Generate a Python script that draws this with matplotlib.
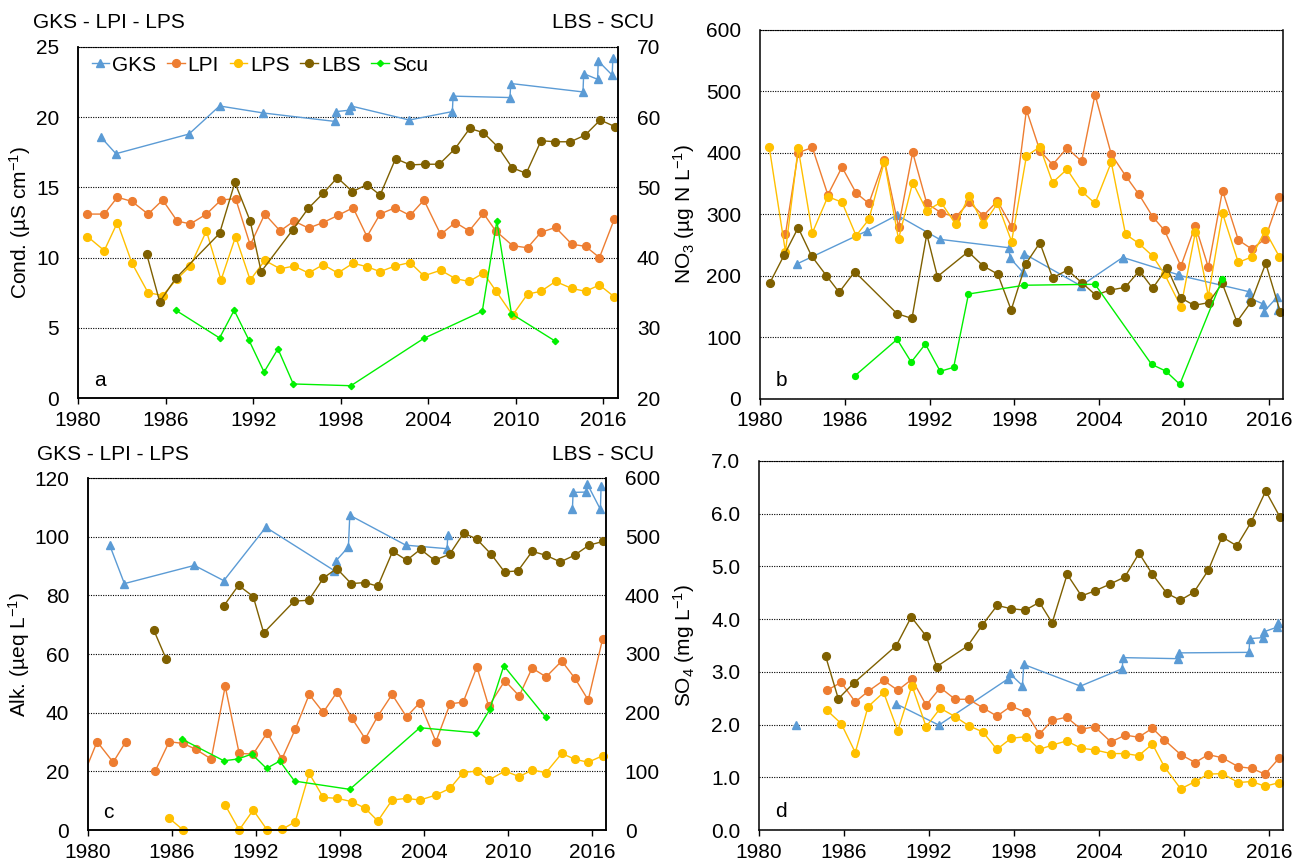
import numpy as np
import matplotlib
matplotlib.use("Agg")
import matplotlib.pyplot as plt
from matplotlib.lines import Line2D

plt.rcParams['font.family'] = ['Liberation Sans', 'DejaVu Sans']
plt.rcParams['mathtext.default'] = 'regular'
plt.rcParams['font.size'] = 15

nan = np.nan

# sampling years
YR_GKS = [1981.55, 1982.6, 1987.6, 1989.7, 1992.7, 1997.6, 1997.7, 1998.6, 1998.7, 2002.7,
          2005.65, 2005.7, 2009.6, 2009.65, 2014.6, 2014.65, 2015.6, 2015.65, 2016.6, 2016.65]
YR_LAKE = [1980.65, 1981.8, 1982.7, 1983.7, 1984.8, 1985.8, 1986.8, 1987.7, 1988.8, 1989.8,
           1990.8, 1991.8, 1992.8, 1993.85, 1994.8, 1995.8, 1996.8, 1997.8, 1998.85, 1999.8,
           2000.7, 2001.72, 2002.75, 2003.7, 2004.85, 2005.86, 2006.8, 2007.78, 2008.62, 2009.78,
           2010.8, 2011.72, 2012.72, 2013.84, 2014.78, 2015.73, 2016.75]
YR_LBS = [1984.7, 1985.6, 1986.7, 1989.7, 1990.75, 1991.8, 1992.55, 1994.73, 1995.77, 1996.82,
          1997.77, 1998.8, 1999.8, 2000.7, 2001.76, 2002.77, 2003.75, 2004.75, 2005.83, 2006.84,
          2007.78, 2008.8, 2009.75, 2010.71, 2011.73, 2012.7, 2013.74, 2014.75, 2015.78, 2016.8]
YR_LBS_B = [1980.7, 1981.7, 1982.7, 1983.65] + YR_LBS
YR_SCU = [1986.7, 1989.7, 1990.7, 1991.7, 1992.75, 1993.7, 1994.75, 1998.7, 2003.7, 2007.7,
          2008.7, 2009.7, 2012.7]

# a: conductivity (uS/cm)
cond_gks = [18.6, 17.4, 18.8, 20.8, 20.3, 19.7, 20.4, 20.5, 20.8, 19.8,
            20.4, 21.5, 21.4, 22.4, 21.8, 23.1, 22.7, 24.0, 23.0, 24.25]
cond_lpi = [13.1, 13.1, 14.3, 14.0, 13.1, 14.1, 12.6, 12.4, 13.1, 14.1, 14.2, 10.9, 13.1, 11.9,
            12.6, 12.1, 12.5, 13.0, 13.55, 11.5, 13.1, 13.55, 13.0, 14.1, 11.65, 12.5, 11.9,
            13.15, 11.9, 10.85, 10.7, 11.8, 12.15, 10.95, 10.8, 10.0, 12.75]
cond_lps = [11.5, 10.5, 12.5, 9.6, 7.5, 7.3, 8.5, 9.4, 11.9, 8.4, 11.5, 8.4, 9.8, 9.2, 9.4, 8.9,
            9.5, 8.9, 9.6, 9.35, 9.0, 9.4, 9.65, 8.7, 9.1, 8.5, 8.3, 8.9, 7.65, 5.9, 7.4, 7.6,
            8.3, 7.8, 7.6, 8.05, 7.2]
cond_lbs = [40.55, 33.7, 37.05, 43.45, 50.7, 45.2, 38.0, 44.0, 47.0, 49.2, 51.4, 49.4, 50.4,
            48.9, 54.1, 53.2, 53.3, 53.3, 55.5, 58.4, 57.8, 55.7, 52.8, 52.0, 56.65, 56.5,
            56.5, 57.45, 59.6, 58.65]
cond_scu = [32.5, 28.55, 32.5, 28.3, 23.7, 27.0, 22.0, 21.75, 28.5, 32.35, 45.2, 32.0, 28.1]

# b: nitrate (ug N/L)
no3_gks = [nan, 219.5, 273.7, 299, 259.7, 246, 229, 206, 236, 184,
           230, 230, 202, 201, 174.5, 164, 154.5, 142, 166, 145]
no3_lpi = [nan, 268, 400.5, 409, 332, 377, 335, 318, 389, 280, 401, 318, 303, 296, 320, 298,
           322, 280, 470, 404, 381, 408, 386.5, 495, 398, 363, 333, 296.5, 274, 216, 282, 214,
           339, 258.5, 244, 260, 328]
no3_lps = [410, 239.5, 407.5, 270, 329, 320, 265.5, 292, 386, 260, 352, 306, 320, 284, 330.5,
           284, 318, 256, 395, 410, 352, 373.5, 338, 318, 385, 268, 253, 232.5, 203, 150, 271,
           167.5, 302, 222, 231, 273.5, 231]
no3_lbs = [189, 233.6, 278.5, 232.5, 200.5, 173.5, 207, 138.7, 131, 268, 199, 239.5, 216.7, 203,
           144.7, 219.5, 254, 197, 209.7, 189, 169, 177, 181.6, 208.6, 180, 213.5, 164.7, 152.3,
           156.6, 188, 125.7, 158, 220.6, 142]
no3_scu = [37.4, 97, 60, 89.4, 45, 51.5, 170.7, 185, 186.5, 56.4, 45.5, 23.9, 194.6]

# c: alkalinity (ueq/L)
alk_gks = [97.1, 84.0, 90.2, 85.0, 103.2, 88.4, 91.7, 96.5, 107.3, 97.1,
           95.9, 100.7, nan, nan, 109.3, 115.1, 115.2, 118.1, 109.3, 117.2]
alk_lpi_first = (1979.6, 17.8)
alk_lpi = [30.1, 23.1, 30.1, nan, 20.1, 30.1, 29.5, 27.5, 24.2, 49.0, 26.1, 25.9, 33.2, 24.2,
           34.3, 46.2, 40.1, 47.1, 38.1, 31.1, 38.8, 46.2, 38.6, 43.4, 30.1, 43.0, 43.6, 55.6,
           42.2, 50.9, 45.7, 55.2, 52.2, 57.6, 51.7, 44.3, 65.0]
alk_lps = [nan, nan, nan, nan, nan, 4.0, 0, nan, nan, 8.5, 0, 6.8, 0, 0.2, 2.8, 19.3, 11.1, 10.8,
           9.65, 7.4, 3.07, 10.2, 10.8, 10.2, 11.9, 14.2, 19.6, 20.1, 17.0, 20.1, 18.2, 20.4,
           19.6, 26.1, 24.1, 23.1, 25.3]
alk_lbs = [340.6, 290.7, nan, 382, 417, 398, 336, 390, 391.7, 429.7, 445.7, 420, 421.8, 415.5,
           475, 459.8, 478.5, 459.8, 470, 506.3, 495.6, 470, 440, 441.6, 475, 468.3, 457,
           468.3, 485.4, 492]
alk_scu = [155, 118, 121, 129.4, 105, 117.5, 83.4, 69.3, 174.3, 165.8, 205.5, 279.9, 192]

# d: sulphate (mg/L)
so4_gks = [nan, 1.99, nan, 2.39, 1.99, 2.87, 2.97, 2.74, 3.14, 2.73,
           3.06, 3.27, 3.25, 3.36, 3.37, 3.63, 3.65, 3.76, 3.85, 3.92]
so4_lpi = [nan, nan, nan, nan, 2.65, 2.8, 2.43, 2.63, 2.84, 2.65, 2.86, 2.37, 2.70, 2.48, 2.48,
           2.32, 2.16, 2.35, 2.23, 1.82, 2.08, 2.14, 1.91, 1.96, 1.67, 1.8, 1.76, 1.93, 1.71,
           1.43, 1.28, 1.43, 1.37, 1.2, 1.17, 1.06, 1.37]
so4_lps = [nan, nan, nan, nan, 2.27, 2.02, 1.47, 2.34, 2.61, 1.88, 2.74, 1.96, 2.31, 2.15, 1.98,
           1.86, 1.53, 1.74, 1.77, 1.53, 1.61, 1.69, 1.55, 1.52, 1.45, 1.45, 1.41, 1.63, 1.2,
           0.78, 0.92, 1.06, 1.07, 0.9, 0.92, 0.83, 0.9]
so4_lbs = [3.30, 2.49, 2.79, 3.5, 4.04, 3.68, 3.10, 3.49, 3.89, 4.26, 4.2, 4.17, 4.32, 3.93,
           4.85, 4.44, 4.54, 4.66, 4.8, 5.25, 4.85, 4.49, 4.36, 4.51, 4.93, 5.56, 5.39, 5.84,
           6.43, 5.93]

C_GKS, C_LPI, C_LPS, C_LBS, C_SCU = '#5B9BD5', '#ED7D31', '#FFC000', '#7F6000', '#00F000'
STY = {
    'GKS': dict(color=C_GKS, marker='^', ms=6, lw=1.0),
    'LPI': dict(color=C_LPI, marker='o', ms=5.6, lw=1.0),
    'LPS': dict(color=C_LPS, marker='o', ms=5.6, lw=1.0),
    'LBS': dict(color=C_LBS, marker='o', ms=5.6, lw=1.0),
    'Scu': dict(color=C_SCU, marker='D', ms=3.2, lw=1.0),
}


def setup(ax, ylim, yticks, fmt, ylabel, lx, letter):
    ax.set_xlim(1980, 2017)
    ax.set_xticks(range(1980, 2017, 6))
    ax.set_ylim(*ylim)
    ax.set_yticks(yticks)
    ax.set_yticklabels([fmt.format(v) for v in yticks])
    ax.grid(axis='y', color='black', linestyle=(0, (1, 1.2)), linewidth=0.8)
    ax.set_axisbelow(True)
    ax.spines['top'].set_linestyle((0, (1, 1.2)))
    ax.spines['top'].set_linewidth(0.8)
    for s in ['left', 'bottom', 'right']:
        ax.spines[s].set_linewidth(1.1)
    ax.tick_params(axis='y', length=0, pad=13.5)
    ax.tick_params(axis='x', length=4, width=1, direction='out', pad=5)
    ax.set_ylabel(ylabel)
    ax.yaxis.set_label_coords(lx, 0.5)
    ax.text(0.03, 0.035, letter, transform=ax.transAxes, fontsize=15)


def twin(ax, ylim, yticks):
    ax2 = ax.twinx()
    ax2.set_ylim(*ylim)
    ax2.set_yticks(yticks)
    ax2.tick_params(axis='y', length=0, pad=13.5)
    ax2.spines['top'].set_visible(False)
    for s in ['left', 'bottom', 'right']:
        ax2.spines[s].set_linewidth(1.1)
    return ax2


fig = plt.figure(figsize=(13.06, 8.67), dpi=100)
W, H = 1306, 867


def box(l, t, r, b):
    return [l / W, 1 - b / H, (r - l) / W, (b - t) / H]


# panel a
ax = fig.add_axes(box(78, 47, 618, 398))
setup(ax, (0, 25), [0, 5, 10, 15, 20, 25], '{:g}', r'Cond. (µS cm$^{-1}$)', -0.083, 'a')
ax.plot(YR_GKS, cond_gks, **STY['GKS'])
ax.plot(YR_LAKE, cond_lpi, **STY['LPI'])
ax.plot(YR_LAKE, cond_lps, **STY['LPS'])
ax2 = twin(ax, (20, 70), [20, 30, 40, 50, 60, 70])
ax2.plot(YR_LBS, cond_lbs, **STY['LBS'])
ax2.plot(YR_SCU, cond_scu, **STY['Scu'])
handles = [Line2D([], [], **STY[k]) for k in ['GKS', 'LPI', 'LPS', 'LBS', 'Scu']]
ax2.legend(handles, ['GKS', 'LPI', 'LPS', 'LBS', 'Scu'], ncol=5, loc='upper left',
           bbox_to_anchor=(0.025, 0.975), frameon=False, handlelength=0.85,
           handletextpad=0.15, columnspacing=0.5, borderpad=0, borderaxespad=0, fontsize=15)
fig.text(33 / W, 1 - 23 / H, 'GKS - LPI - LPS', va='center', fontsize=15)
fig.text(552 / W, 1 - 23 / H, 'LBS - SCU', va='center', fontsize=15)

# panel b
ax = fig.add_axes(box(760, 30, 1283, 399))
setup(ax, (0, 600), list(range(0, 601, 100)), '{:g}', r'NO$_3$ (µg N L$^{-1}$)', -0.12, 'b')
ax.plot(YR_GKS, no3_gks, **STY['GKS'])
ax.plot(YR_LAKE, no3_lpi, **STY['LPI'])
ax.plot(YR_LAKE, no3_lps, **STY['LPS'])
ax.plot(YR_LBS_B, no3_lbs, **STY['LBS'])
ax.plot(YR_SCU, no3_scu, color=C_SCU, marker='o', ms=4.2, lw=1.0)

# panel c
ax = fig.add_axes(box(88, 478, 606, 830))
setup(ax, (0, 120), list(range(0, 121, 20)), '{:g}', r'Alk. (µeq L$^{-1}$)', -0.108, 'c')
ax.plot(YR_GKS, alk_gks, **STY['GKS'])
ax.plot([alk_lpi_first[0]] + YR_LAKE, [alk_lpi_first[1]] + alk_lpi, **STY['LPI'])
ax.plot(YR_LAKE, alk_lps, clip_on=False, **STY['LPS'])
ax2 = twin(ax, (0, 600), list(range(0, 601, 100)))
ax2.plot(YR_LBS, alk_lbs, **STY['LBS'])
ax2.plot(YR_SCU, alk_scu, **STY['Scu'])
fig.text(37 / W, 1 - 455 / H, 'GKS - LPI - LPS', va='center', fontsize=15)
fig.text(552 / W, 1 - 455 / H, 'LBS - SCU', va='center', fontsize=15)

# panel d
ax = fig.add_axes(box(759, 461, 1283, 830))
setup(ax, (0, 7), [0, 1, 2, 3, 4, 5, 6, 7], '{:.1f}', r'SO$_4$ (mg L$^{-1}$)', -0.118, 'd')
ax.plot(YR_GKS, so4_gks, **STY['GKS'])
ax.plot(YR_LAKE, so4_lpi, **STY['LPI'])
ax.plot(YR_LAKE, so4_lps, **STY['LPS'])
ax.plot(YR_LBS, so4_lbs, **STY['LBS'])

fig.savefig('out.png', dpi=100)
